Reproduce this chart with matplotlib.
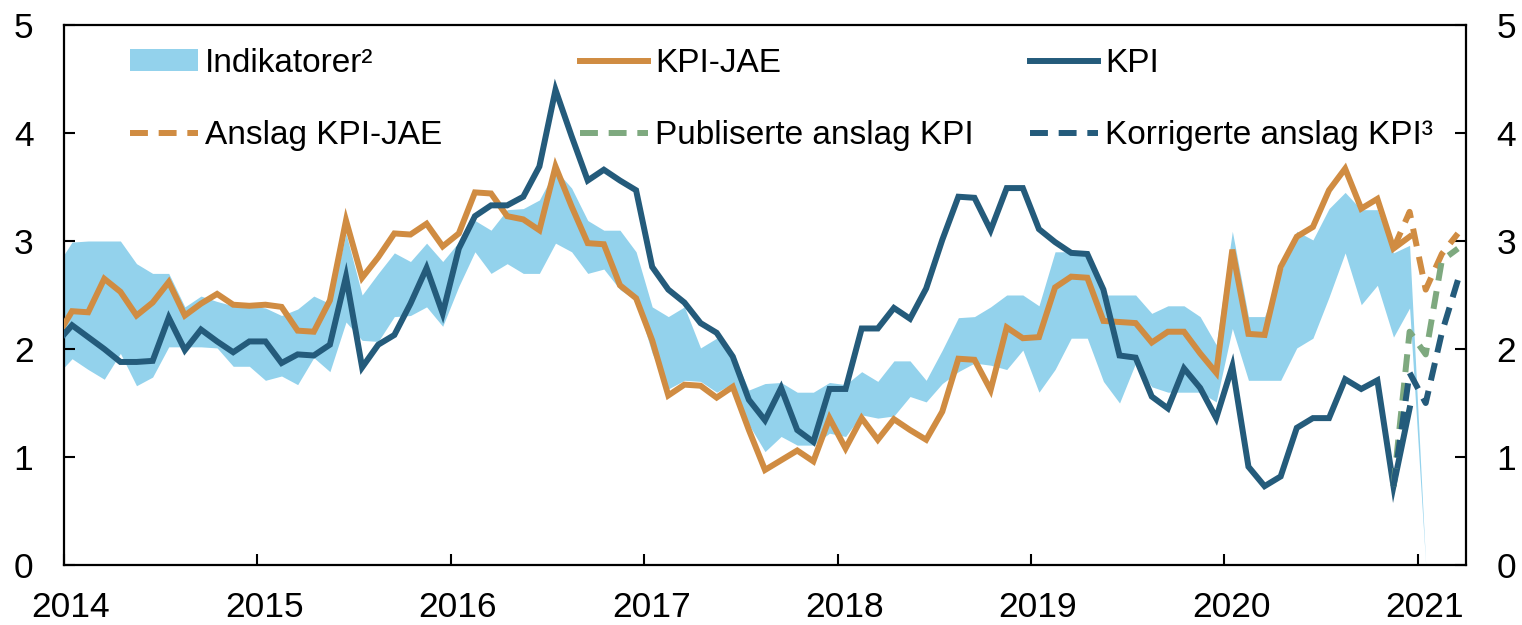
import matplotlib
matplotlib.use("Agg")
import matplotlib.pyplot as plt
import matplotlib.transforms as mtransforms
from matplotlib.patches import Patch
from matplotlib.lines import Line2D
import numpy as np
import pandas as pd

plt.rcParams['font.family'] = ['Liberation Sans', 'DejaVu Sans']

# ---------------- data (monthly, Dec 2013 - Dec 2020) ----------------
months = pd.date_range('2013-12-01', '2020-12-01', freq='MS')

kpi = [2.05,
       2.22, 2.11, 2.00, 1.88, 1.88, 1.89, 2.29, 1.99, 2.18, 2.07, 1.97, 2.07,
       2.07, 1.87, 1.95, 1.94, 2.04, 2.67, 1.83, 2.04, 2.13, 2.42, 2.75, 2.33,
       2.93, 3.23, 3.33, 3.33, 3.41, 3.69, 4.40, 3.97, 3.56, 3.66, 3.56, 3.47,
       2.76, 2.55, 2.43, 2.24, 2.15, 1.93, 1.53, 1.34, 1.64, 1.25, 1.14, 1.63,
       1.63, 2.19, 2.19, 2.38, 2.28, 2.56, 3.01, 3.41, 3.40, 3.10, 3.49, 3.49,
       3.11, 2.99, 2.89, 2.88, 2.55, 1.94, 1.92, 1.56, 1.45, 1.82, 1.64, 1.36,
       1.84, 0.91, 0.73, 0.82, 1.27, 1.36, 1.36, 1.72, 1.63, 1.71, 0.73, 1.45]

kpi_jae = [2.10,
           2.35, 2.34, 2.65, 2.53, 2.31, 2.43, 2.62, 2.31, 2.42, 2.51, 2.41, 2.40,
           2.41, 2.39, 2.17, 2.16, 2.45, 3.19, 2.66, 2.85, 3.07, 3.06, 3.16, 2.95,
           3.07, 3.45, 3.44, 3.23, 3.20, 3.10, 3.69, 3.32, 2.98, 2.97, 2.59, 2.47,
           2.08, 1.57, 1.67, 1.66, 1.55, 1.65, 1.25, 0.88, 0.97, 1.06, 0.96, 1.36,
           1.08, 1.36, 1.16, 1.35, 1.25, 1.16, 1.42, 1.91, 1.90, 1.62, 2.20, 2.10,
           2.11, 2.57, 2.67, 2.66, 2.26, 2.25, 2.24, 2.06, 2.16, 2.16, 1.96, 1.78,
           2.92, 2.14, 2.13, 2.76, 3.04, 3.13, 3.47, 3.67, 3.30, 3.39, 2.93, 3.04]

# Indikatorer band (Dec 2013 - Jan 2021)
band_months = pd.date_range('2013-12-01', '2021-01-01', freq='MS')
ind_high = [2.76,
            2.99, 3.00, 3.00, 3.00, 2.79, 2.70, 2.70, 2.39, 2.49, 2.44, 2.40, 2.40,
            2.38, 2.31, 2.37, 2.49, 2.42, 3.07, 2.50, 2.70, 2.89, 2.81, 2.98, 2.81,
            2.99, 3.19, 3.10, 3.29, 3.30, 3.38, 3.66, 3.49, 3.19, 3.10, 3.10, 2.90,
            2.39, 2.30, 2.39, 2.01, 2.10, 1.96, 1.62, 1.68, 1.69, 1.60, 1.60, 1.69,
            1.67, 1.79, 1.70, 1.89, 1.89, 1.71, 1.99, 2.29, 2.30, 2.39, 2.50, 2.50,
            2.40, 2.90, 2.90, 2.90, 2.50, 2.50, 2.50, 2.33, 2.40, 2.40, 2.30, 2.04,
            3.09, 2.30, 2.30, 2.70, 3.09, 3.01, 3.30, 3.45, 3.29, 3.29, 2.89, 2.96,
            0.00]
ind_low = [1.75,
           1.91, 1.81, 1.72, 1.96, 1.66, 1.74, 2.02, 2.02, 2.02, 2.01, 1.84, 1.84,
           1.71, 1.75, 1.67, 1.92, 1.79, 2.25, 2.08, 2.07, 2.30, 2.31, 2.39, 2.21,
           2.58, 2.90, 2.70, 2.79, 2.70, 2.70, 2.98, 2.90, 2.70, 2.74, 2.55, 2.45,
           1.96, 1.63, 1.71, 1.70, 1.60, 1.68, 1.30, 1.05, 1.19, 1.11, 1.11, 1.22,
           1.19, 1.39, 1.36, 1.38, 1.56, 1.51, 1.68, 1.79, 1.87, 1.85, 1.81, 1.99,
           1.60, 1.81, 2.10, 2.10, 1.70, 1.50, 1.87, 1.65, 1.60, 1.60, 1.60, 1.51,
           2.19, 1.71, 1.71, 1.71, 2.01, 2.10, 2.48, 2.89, 2.41, 2.59, 2.11, 2.38,
           0.00]

# Forecasts (Nov 2020 - Mar 2021)
fc_months = pd.date_range('2020-11-01', '2021-03-01', freq='MS')
anslag_jae = [2.93, 3.27, 2.55, 2.88, 3.07]
publ_kpi = [0.73, 2.16, 1.95, 2.82, 2.93]
korr_kpi = [0.73, 1.78, 1.50, 2.15, 2.64]

years = [2014, 2015, 2016, 2017, 2018, 2019, 2020, 2021]
yticks = [0, 1, 2, 3, 4, 5]

labels = ['Indikatorer²', 'KPI-JAE', 'KPI',
          'Anslag KPI-JAE', 'Publiserte anslag KPI', 'Korrigerte anslag KPI³']

# ---------------- style ----------------
c_band = '#93d2ec'
c_kpi = '#245b7b'
c_jae = '#d08c42'
c_green = '#7ea97f'
lw = 4.3
FS = 24
FS_TICK = 25.5


def to_x(dates):
    return dates.year + (dates.month - 0.5) / 12.0


fig = plt.figure(figsize=(15.22, 6.25), dpi=100)
ax = fig.add_axes([64 / 1522, 60 / 625, 1402 / 1522, 540 / 625])

ax.fill_between(to_x(band_months), ind_low, ind_high, color=c_band, lw=0, zorder=1)
ax.plot(to_x(months), kpi_jae, color=c_jae, lw=lw, zorder=3, solid_joinstyle='miter')
ax.plot(to_x(months), kpi, color=c_kpi, lw=lw, zorder=4, solid_joinstyle='miter')

dash = (3.0, 1.8)
ax.plot(to_x(fc_months), anslag_jae, color=c_jae, lw=lw, ls=(0, dash), zorder=5)
ax.plot(to_x(fc_months), publ_kpi, color=c_green, lw=lw, ls=(0, dash), zorder=5)
ax.plot(to_x(fc_months), korr_kpi, color=c_kpi, lw=lw, ls=(0, dash), zorder=6)

ax.set_xlim(2014, 2021.25)
ax.set_ylim(0, 5)
ax.set_xticks(years)
ax.set_xticklabels([str(y) for y in years])
ax.set_yticks(yticks)
ax.tick_params(axis='both', direction='in', length=8, width=1.5,
               labelsize=FS_TICK, colors='black')
ax.tick_params(axis='y', right=True, labelright=True, pad=22)
ax.tick_params(axis='x', pad=19)
for s in ax.spines.values():
    s.set_linewidth(1.6)

shift = mtransforms.ScaledTranslation(7 / 100, 0, fig.dpi_scale_trans)
for lab in ax.get_xticklabels():
    lab.set_transform(lab.get_transform() + shift)

# ---------------- legend (three columns) ----------------
handles = [
    Patch(facecolor=c_band, edgecolor='none'),
    Line2D([], [], color=c_jae, lw=lw),
    Line2D([], [], color=c_kpi, lw=lw),
    Line2D([], [], color=c_jae, lw=lw, ls=(0, dash)),
    Line2D([], [], color=c_green, lw=lw, ls=(0, dash)),
    Line2D([], [], color=c_kpi, lw=lw, ls=(0, dash)),
]
col_x = [(130 - 64) / 1402, (580 - 64) / 1402, (1030 - 64) / 1402]
for k in range(3):
    leg = ax.legend([handles[k], handles[k + 3]], [labels[k], labels[k + 3]],
                    loc='upper left', bbox_to_anchor=(col_x[k], 0.958),
                    frameon=False, fontsize=FS, handlelength=2.04,
                    handleheight=0.6, handletextpad=0.21, labelspacing=1.25,
                    borderpad=0, borderaxespad=0)
    if k < 2:
        ax.add_artist(leg)

fig.savefig('out.png', dpi=100)
